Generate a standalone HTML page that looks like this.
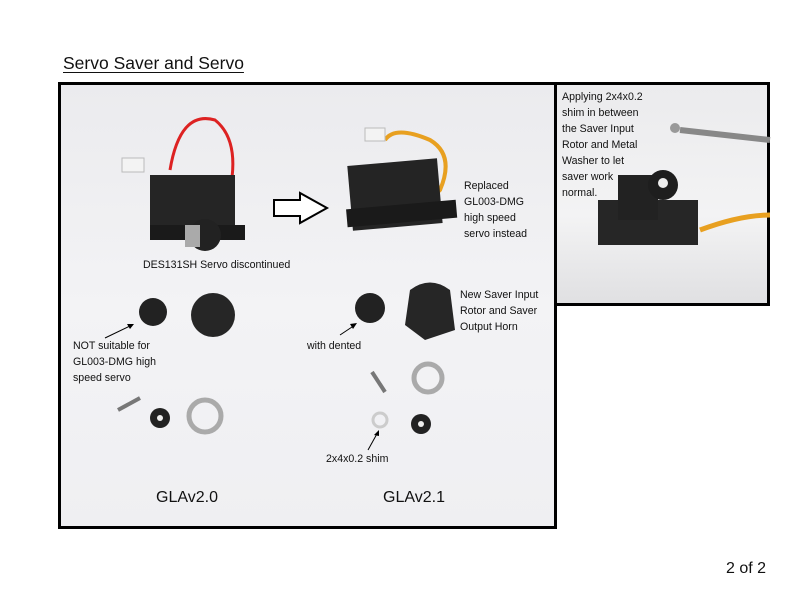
<!DOCTYPE html>
<html><head><style>
body{margin:0;width:800px;height:594px;background:#fff;position:relative;overflow:hidden;font-family:"Liberation Sans",sans-serif}
.t{position:absolute;font-size:10.6px;line-height:16px;color:#111;white-space:nowrap}
.box{position:absolute;border:3px solid #000;box-sizing:border-box}
</style></head><body>
<div class="t" style="left:63px;top:51px;font-size:17.5px;line-height:24px;text-decoration:underline;text-underline-offset:3px">Servo Saver and Servo</div>
<div class="box" style="left:58px;top:82px;width:499px;height:447px;background:linear-gradient(#ebebee,#f3f3f5 50%,#efeff2)"></div>
<div class="box" style="left:554px;top:82px;width:216px;height:224px;background:linear-gradient(#ebebed,#f3f3f4 60%,#e0e0e2)"></div>
<svg style="position:absolute;left:0;top:0" width="800" height="594">
<path d="M170 170 Q180 110 215 120 Q240 140 230 190" stroke="#d22" stroke-width="3" fill="none"/>
<rect x="122" y="158" width="22" height="14" fill="#f3f3f3" stroke="#bbb"/>
<rect x="150" y="175" width="85" height="60" fill="#252525"/>
<rect x="150" y="225" width="95" height="15" fill="#1a1a1a"/>
<circle cx="205" cy="235" r="16" fill="#222"/>
<rect x="185" y="225" width="15" height="22" fill="#aaa"/>
<path d="M274 200 H300 V193 L327 208 L300 223 V216 H274 Z" fill="#fff" stroke="#000" stroke-width="2"/>
<path d="M385 140 Q395 125 430 140 Q455 155 440 190 Q430 200 425 200" stroke="#e8a020" stroke-width="4" fill="none"/>
<rect x="365" y="128" width="20" height="13" fill="#f3f3f3" stroke="#bbb"/>
<rect x="350" y="162" width="90" height="65" fill="#242424" transform="rotate(-5 395 195)"/>
<rect x="345" y="205" width="110" height="18" fill="#1a1a1a" transform="rotate(-5 395 195)"/>
<circle cx="153" cy="312" r="14" fill="#222"/><circle cx="213" cy="315" r="22" fill="#262626"/>
<circle cx="370" cy="308" r="15" fill="#222"/><path d="M410 290 Q430 275 450 290 L455 330 L425 340 L405 325Z" fill="#262626"/>
<line x1="118" y1="410" x2="140" y2="398" stroke="#777" stroke-width="4"/>
<circle cx="160" cy="418" r="10" fill="#222"/><circle cx="160" cy="418" r="3" fill="#eee"/>
<circle cx="205" cy="416" r="16" fill="none" stroke="#aaa" stroke-width="5"/>
<line x1="372" y1="372" x2="385" y2="392" stroke="#777" stroke-width="4"/>
<circle cx="428" cy="378" r="14" fill="none" stroke="#aaa" stroke-width="5"/>
<circle cx="380" cy="420" r="7" fill="none" stroke="#ccc" stroke-width="3"/>
<circle cx="421" cy="424" r="10" fill="#222"/><circle cx="421" cy="424" r="3" fill="#eee"/>
<line x1="105" y1="338" x2="132" y2="325" stroke="#000"/><path d="M134 324 l-7 0 l3 5z" fill="#000"/>
<line x1="340" y1="335" x2="355" y2="325" stroke="#000"/><path d="M357 323 l-7 1 l3 5z" fill="#000"/>
<line x1="368" y1="450" x2="378" y2="432" stroke="#000"/><path d="M379 430 l-5 5 l5 1z" fill="#000"/>
<path d="M700 230 Q740 215 770 215" stroke="#e8a020" stroke-width="5" fill="none"/>
<rect x="598" y="200" width="100" height="45" fill="#262626"/>
<rect x="618" y="175" width="40" height="45" fill="#222"/>
<circle cx="663" cy="185" r="15" fill="#1e1e1e"/><circle cx="663" cy="183" r="5" fill="#eee"/>
<line x1="680" y1="130" x2="770" y2="140" stroke="#888" stroke-width="6"/>
<circle cx="675" cy="128" r="5" fill="#999"/>
</svg>
<div class="t" style="left:143px;top:257px">DES131SH Servo discontinued</div>
<div class="t" style="left:464px;top:178px">Replaced<br>GL003-DMG<br>high speed<br>servo instead</div>
<div class="t" style="left:460px;top:287px">New Saver Input<br>Rotor and Saver<br>Output Horn</div>
<div class="t" style="left:73px;top:338px">NOT suitable for<br>GL003-DMG high<br>speed servo</div>
<div class="t" style="left:307px;top:338px">with dented</div>
<div class="t" style="left:326px;top:451px">2x4x0.2 shim</div>
<div class="t" style="left:156px;top:490px;font-size:16px">GLAv2.0</div>
<div class="t" style="left:383px;top:490px;font-size:16px">GLAv2.1</div>
<div class="t" style="left:562px;top:89px">Applying 2x4x0.2<br>shim in between<br>the Saver Input<br>Rotor and Metal<br>Washer to let<br>saver work<br>normal.</div>
<div class="t" style="left:726px;top:561px;font-size:16px">2 of 2</div>
</body></html>
